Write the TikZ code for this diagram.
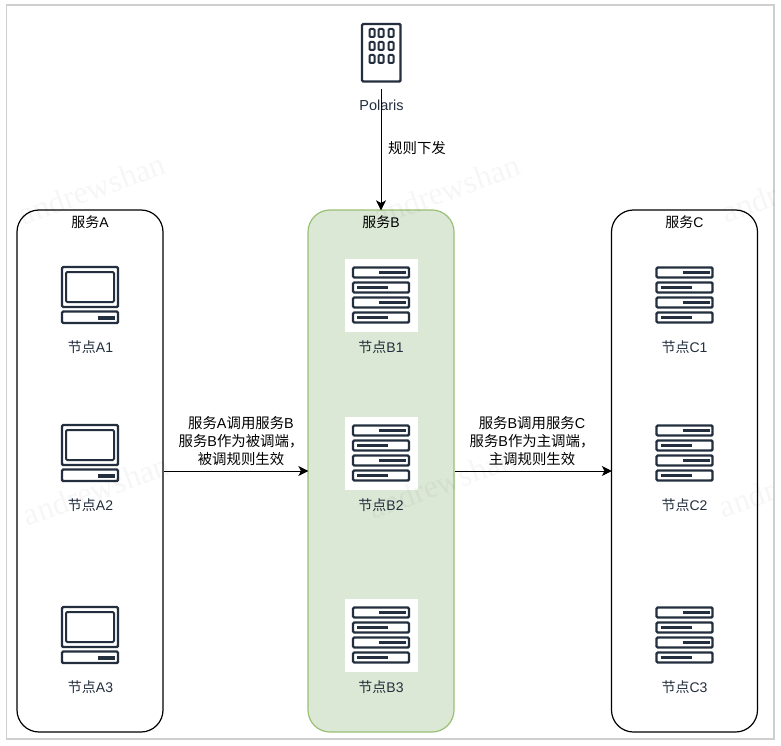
\documentclass[tikz,border=0pt]{standalone}
\usepackage{fontspec}
\setmainfont{Liberation Sans}
\newfontfamily\cjkface{Noto Sans CJK SC}
\newfontfamily\markface{Liberation Serif}
\newcommand{\zh}[1]{{\cjkface #1}}
\usetikzlibrary{arrows.meta}
\definecolor{ink}{HTML}{232F3E}
\definecolor{edgegray}{HTML}{CFCFCF}
\definecolor{bfill}{HTML}{DAE8D5}
\definecolor{bline}{HTML}{9AC074}
\tikzset{
  svcbox/.style={draw=black,line width=1.2pt,rounded corners=22pt,minimum width=146pt,minimum height=522pt,inner sep=0pt,fill=white},
  svcgreen/.style={svcbox,draw=bline,fill=bfill},
  title/.style={font=\fontsize{14}{18}\selectfont,text=black,inner sep=0pt},
  nodelabel/.style={font=\fontsize{14}{18}\selectfont,text=ink,inner sep=0pt},
  edgetext/.style={font=\fontsize{14.4}{18}\selectfont,text=black,inner sep=0pt,align=center},
  flow/.style={draw=black,line width=1pt,shorten >=-1pt,-{Stealth[length=10pt,width=10pt,inset=2.5pt]}},
  icon/.style={draw=ink,line width=2.4pt,rounded corners=1.2pt},
  iconbar/.style={draw=ink,line width=2.2pt},
  wmark/.style={font=\markface\fontsize{32}{36}\selectfont,text=black,opacity=0.035,rotate=20,inner sep=0pt},
  laptop/.pic={
    \draw[icon] (-28,-28) rectangle (28,12);
    \draw[icon,line width=2pt] (-24,-23) rectangle (24,7);
    \draw[icon] (-28,16.5) rectangle (28,28);
    \fill[ink] (8,20.5) rectangle (25,24.5);
  },
  server/.pic={
    \foreach \yy/\side in {-22.5/1,-7.5/0,7.5/1,22.5/0}{
      \draw[icon] (-28,\yy-5) rectangle (28,\yy+5);
      \ifnum\side=1
        \draw[iconbar] (-2,\yy) -- (25,\yy);
      \else
        \draw[iconbar] (-24,\yy) -- (7,\yy);
      \fi
    }
  },
  whiteback/.style={fill=white,draw=none,minimum width=73pt,minimum height=73pt,inner sep=0pt},
}
\begin{document}
\begin{tikzpicture}[x=1pt,y=-1pt]
\useasboundingbox (0,0) rectangle (781,746);
\fill[white] (0,0) rectangle (781,746);
\draw[edgegray,line width=1.5pt] (6.5,5) rectangle (774,739);

% service boxes
\node[svcbox] (svcA) at (90,471) {};
\node[svcgreen] (svcB) at (381,471) {};
\node[svcbox] (svcC) at (684.5,471) {};
\node[title] (tA) at (90,222) {\zh{服务}A};
\node[title] (tB) at (381,222) {\zh{服务}B};
\node[title] (tC) at (684.5,222) {\zh{服务}C};

% Polaris building
\draw[icon] (362,24) rectangle (400.5,81.5);
\foreach \wx in {372,381,391}{
  \foreach \wy in {33,46,59}{
    \draw[ink,line width=2pt,rounded corners=1pt] (\wx-2.5,\wy-4) rectangle (\wx+2.5,\wy+4);
  }
}
\node[nodelabel,font=\fontsize{14.5}{18}\selectfont] (polaris) at (381.5,105) {Polaris};
\coordinate (ruleStart) at (381,89);
\draw[flow] (ruleStart) -- (svcB.north);
\node[edgetext,anchor=west] (ruleText) at (388,148) {\zh{规则下发}};

% service A nodes
\pic at (90,295) {laptop};
\pic at (90,453) {laptop};
\pic at (90,635) {laptop};
\node[nodelabel] (a1) at (90.5,347) {\zh{节点}A1};
\node[nodelabel] (a2) at (90.5,505) {\zh{节点}A2};
\node[nodelabel] (a3) at (90.5,687) {\zh{节点}A3};

% service B nodes
\node[whiteback] (b1back) at (381,295) {};
\node[whiteback] (b2back) at (381,453) {};
\node[whiteback] (b3back) at (381,635) {};
\pic at (381,295) {server};
\pic at (381,453) {server};
\pic at (381,635) {server};
\node[nodelabel] (b1) at (381,347) {\zh{节点}B1};
\node[nodelabel] (b2) at (381,505) {\zh{节点}B2};
\node[nodelabel] (b3) at (381,687) {\zh{节点}B3};

% service C nodes
\pic at (684.5,295) {server};
\pic at (684.5,453) {server};
\pic at (684.5,635) {server};
\node[nodelabel] (c1) at (684.5,347) {\zh{节点}C1};
\node[nodelabel] (c2) at (684.5,505) {\zh{节点}C2};
\node[nodelabel] (c3) at (684.5,687) {\zh{节点}C3};

% connectors
\draw[flow] (svcA.east |- 0,471) -- (svcB.west |- 0,471);
\draw[flow] (svcB.east |- 0,471) -- (svcC.west |- 0,471);
\node[edgetext] (abText) at (241,441) {\zh{服务}A\zh{调用服务}B\\\zh{服务}B\zh{作为被调端，}\\\zh{被调规则生效}};
\node[edgetext] (bcText) at (532,441) {\zh{服务}B\zh{调用服务}C\\\zh{服务}B\zh{作为主调端，}\\\zh{主调规则生效}};

% watermarks
\begin{scope}
\clip (6.5,5) rectangle (774,739);
\node[wmark] (w1) at (92,189) {andrewshan};
\node[wmark] (w2) at (447,190) {andrewshan};
\node[wmark] (w3) at (795,187) {andrewshan};
\node[wmark] (w4) at (96,490) {andrewshan};
\node[wmark] (w5) at (442,483) {andrewshan};
\node[wmark] (w6) at (792,482) {andrewshan};
\end{scope}
\end{tikzpicture}
\end{document}
